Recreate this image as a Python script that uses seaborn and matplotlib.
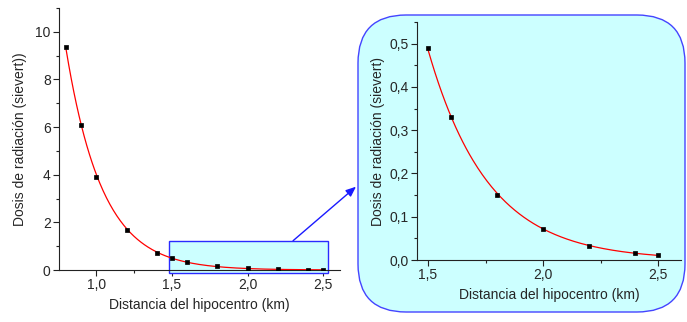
import numpy as np
import pandas as pd
import seaborn as sns
import matplotlib.pyplot as plt
import matplotlib.ticker as mticker
from matplotlib.patches import Rectangle, FancyBboxPatch, ConnectionPatch

# --- data ---
distancia = [0.8, 0.9, 1.0, 1.2, 1.4, 1.5, 1.6, 1.8, 2.0, 2.2, 2.4, 2.5]
dosis = [9.38, 6.09, 3.92, 1.68, 0.73, 0.49, 0.33, 0.15, 0.071, 0.033, 0.017, 0.0115]

zoom_distancia = [1.5, 1.6, 1.8, 2.0, 2.2, 2.4, 2.5]
zoom_dosis = [0.49, 0.331, 0.150, 0.071, 0.033, 0.017, 0.0115]

xlabel = "Distancia del hipocentro (km)"
ylabel_main = "Dosis de radiación (sievert))"
ylabel_zoom = "Dosis de radiación (sievert)"

CYAN = "#ccffff"
BLUE = "#2a2aff"
FS = 10

df = pd.DataFrame({"x": distancia, "y": dosis})
df_zoom = pd.DataFrame({"x": zoom_distancia, "y": zoom_dosis})

# exponential decay fit through the points (log-linear, weighted)
coef = np.polyfit(df["x"], np.log(df["y"]), 1, w=np.sqrt(df["y"]))
fit_x = np.linspace(0.8, 2.5, 300)
fit = pd.DataFrame({"x": fit_x, "y": np.exp(np.polyval(coef, fit_x))})
coef_z = np.polyfit(df_zoom["x"], np.log(df_zoom["y"]), 1, w=np.sqrt(df_zoom["y"]))
fitz_x = np.linspace(1.5, 2.5, 200)
fit_zoom = pd.DataFrame({"x": fitz_x, "y": np.exp(np.polyval(coef_z, fitz_x))})

sns.set_style("ticks")
plt.rcParams["font.family"] = ["Liberation Sans", "DejaVu Sans"]
plt.rcParams["font.size"] = FS

W, H = 687, 322
fig = plt.figure(figsize=(W / 100, H / 100), dpi=100)


def px_axes(left, top, right, bottom):
    return fig.add_axes([left / W, 1 - bottom / H, (right - left) / W, (bottom - top) / H])


def style_axes(ax):
    sns.despine(ax=ax)
    for s in ("left", "bottom"):
        ax.spines[s].set_linewidth(0.8)
        ax.spines[s].set_color("#222222")
    ax.tick_params(which="major", length=4, width=0.8, labelsize=FS, color="#222222", pad=2)
    ax.tick_params(which="minor", length=2.5, width=0.8, color="#222222")
    ax.set_xlabel(xlabel, fontsize=FS, labelpad=4)


def comma(fmt):
    return mticker.FuncFormatter(lambda v, p: format(v, fmt).replace(".", ","))


# --- rounded inset box (behind everything) ---
box = FancyBboxPatch((358 / W, 1 - 312 / H), (685 - 358) / W, (312 - 15) / H,
                     boxstyle="round,pad=0,rounding_size=0.07", transform=fig.transFigure,
                     facecolor=CYAN, edgecolor="#4444ff", linewidth=1.0, zorder=-5,
                     mutation_aspect=W / H)
fig.patches.append(box)

# --- main plot ---
ax = px_axes(59, 8, 340, 270)
ax.set_zorder(1)
ax.patch.set_alpha(0)
sns.lineplot(data=fit, x="x", y="y", ax=ax, color="red", linewidth=0.9, zorder=3)
sns.scatterplot(data=df, x="x", y="y", ax=ax, marker="s", s=10, color="black",
                edgecolor="black", linewidth=0.5, zorder=4)
ax.add_patch(Rectangle((1.481, -0.12), 2.534 - 1.481, 1.35, facecolor=CYAN,
                       edgecolor=BLUE, linewidth=1.0, zorder=1, clip_on=False))
ax.set_xlim(0.753, 2.61)
ax.set_ylim(0, 11)
ax.xaxis.set_major_locator(mticker.FixedLocator([1.0, 1.5, 2.0, 2.5]))
ax.xaxis.set_minor_locator(mticker.MultipleLocator(0.25))
ax.yaxis.set_major_locator(mticker.MultipleLocator(2))
ax.yaxis.set_minor_locator(mticker.MultipleLocator(1))
ax.xaxis.set_major_formatter(comma(".1f"))
ax.yaxis.set_major_formatter(comma(".0f"))
style_axes(ax)
ax.set_ylabel(ylabel_main, fontsize=FS, labelpad=6)

# --- zoom plot ---
axz = px_axes(417, 22, 681, 260)
axz.set_zorder(1)
axz.patch.set_alpha(0)
sns.lineplot(data=fit_zoom, x="x", y="y", ax=axz, color="red", linewidth=0.9, zorder=3)
sns.scatterplot(data=df_zoom, x="x", y="y", ax=axz, marker="s", s=10, color="black",
                edgecolor="black", linewidth=0.5, zorder=4)
axz.set_xlim(1.452, 2.60)
axz.set_ylim(0, 0.55)
axz.xaxis.set_major_locator(mticker.MultipleLocator(0.5))
axz.xaxis.set_minor_locator(mticker.MultipleLocator(0.25))
axz.yaxis.set_major_locator(mticker.MultipleLocator(0.1))
axz.yaxis.set_minor_locator(mticker.MultipleLocator(0.05))
axz.xaxis.set_major_formatter(comma(".1f"))
axz.yaxis.set_major_formatter(comma(".1f"))
style_axes(axz)
axz.set_ylabel(ylabel_zoom, fontsize=FS, labelpad=3)

# --- arrow from rectangle to inset ---
arrow = ConnectionPatch(xyA=(2.3, 1.23), coordsA=ax.transData,
                        xyB=(356 / W, 1 - 186.7 / H), coordsB=fig.transFigure,
                        arrowstyle="-|>,head_length=0.6,head_width=0.25",
                        color="#1a1aff", linewidth=1.0, zorder=5)
fig.add_artist(arrow)

fig.savefig("out.png", dpi=100)
